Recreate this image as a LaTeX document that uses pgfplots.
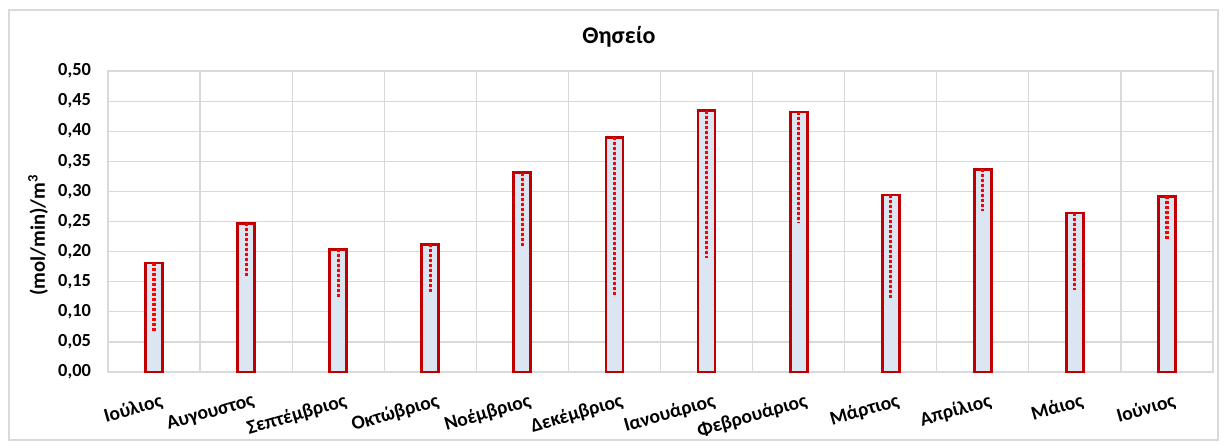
\documentclass[border=0pt]{standalone}
\usepackage{fontspec}
\setmainfont{Carlito}
\usepackage{pgfplots}
\pgfplotsset{compat=1.18}
\usepackage{pgfplotstable}
\definecolor{barfill}{HTML}{DCE6F2}
\definecolor{barline}{HTML}{C00000}
\definecolor{gridc}{HTML}{D9D9D9}
\definecolor{errc}{HTML}{FF0000}
\pgfplotstableread{
x y em
0 0.181 0.115
1 0.247 0.088
2 0.204 0.079
3 0.212 0.079
4 0.331 0.123
5 0.390 0.265
6 0.434 0.244
7 0.432 0.183
8 0.294 0.171
9 0.337 0.069
10 0.264 0.128
11 0.292 0.073
}\data
\begin{document}
\begin{tikzpicture}
\useasboundingbox (-54pt,-36.5pt) rectangle (559.5pt,186pt);
\draw[gridc, line width=0.7pt] (-49.5pt,-34pt) rectangle (555pt,181pt);
\begin{axis}[
  scale only axis, width=552.5pt, height=150.5pt,
  at={(0,0)}, anchor=south west,
  xmin=-0.5, xmax=11.5, ymin=0, ymax=0.5,
  ytick={0,0.05,0.1,0.15,0.2,0.25,0.3,0.35,0.4,0.45,0.5},
  xtick={0,1,2,3,4,5,6,7,8,9,10,11},
  xticklabels={Ιούλιος,Αυγουστος,Σεπτέμβριος,Οκτώβριος,Νοέμβριος,Δεκέμβριος,Ιανουάριος,Φεβρουάριος,Μάρτιος,Απρίλιος,Μάιος,Ιούνιος},
  minor xtick={-0.5,0.5,1.5,2.5,3.5,4.5,5.5,6.5,7.5,8.5,9.5,10.5,11.5},
  xminorgrids, ymajorgrids,
  major tick length=0pt, minor tick length=0pt,
  grid style={gridc, line width=0.6pt},
  minor grid style={gridc, line width=0.6pt},
  axis line style={gridc, line width=0.8pt},
  xticklabel style={rotate=16, anchor=north east, inner sep=0pt, yshift=-10.5pt, xshift=0pt, font=\bfseries\fontsize{9.8}{11}\selectfont},
  yticklabel style={anchor=east, xshift=-5pt, font=\bfseries\fontsize{9.2}{10}\selectfont},
  /pgf/number format/.cd, use comma, fixed, fixed zerofill, precision=2, assume math mode=true,
  /pgfplots/.cd,
  ylabel={(mol/min)/m\textsuperscript{3}},
  ylabel style={at={(axis description cs:-0.0633,0.455)}, anchor=center, font=\bfseries\fontsize{10.3}{11}\selectfont},
]
\addplot[ybar, bar width=8.5pt, fill=barfill, draw=barline, line width=1.4pt,
  error bars/.cd, y dir=minus, y explicit, error mark=none,
  error bar style={errc, line width=1.6pt, dash pattern=on 1.4pt off 1.1pt}]
  table[x=x, y=y, y error minus=em] {\data};
\end{axis}
\node[font=\bfseries\fontsize{12}{14}\selectfont] at (255.5pt,167.5pt) {Θησείο};
\end{tikzpicture}
\end{document}
